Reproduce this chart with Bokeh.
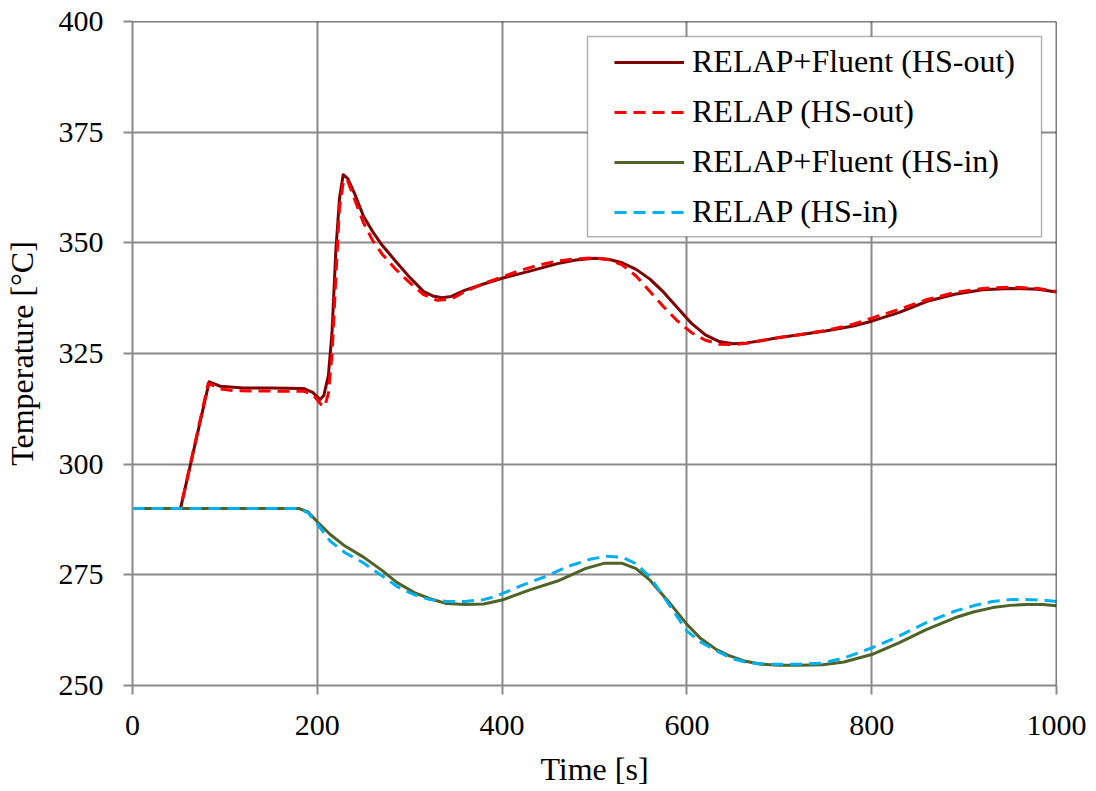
from bokeh.plotting import figure
from bokeh.models import Legend, LegendItem, FixedTicker, Span, BoxAnnotation
from bokeh.embed import file_html
from bokeh.resources import INLINE

# ---------------- data ----------------
t_fl_out = [0, 52, 83, 95, 120, 150, 185, 195, 203, 207, 212, 216, 220, 224, 228, 233,
            240, 250, 260, 270, 285, 300, 315, 325, 335, 345, 360, 380, 400, 430, 460,
            480, 500, 515, 530, 545, 560, 575, 590, 605, 620, 635, 650, 665, 680, 700,
            720, 750, 780, 800, 830, 860, 890, 920, 950, 980, 1000]
y_fl_out = [290, 290, 318.6, 317.6, 317.2, 317.2, 317.1, 316.2, 314.6, 315.5, 320, 330,
            348, 360, 365.4, 364.5, 361.3, 356, 352.5, 349.5, 345.8, 342.2, 339.0, 338.0,
            337.6, 337.9, 339.3, 340.7, 342.0, 343.6, 345.3, 346.1, 346.5, 346.3, 345.5,
            344, 341.8, 338.8, 335.3, 331.8, 329.2, 327.7, 327.2, 327.4, 327.9, 328.6,
            329.2, 330.1, 331.2, 332.3, 334.3, 336.8, 338.4, 339.4, 339.7, 339.5, 338.9]

t_re_out = [0, 52, 82, 95, 110, 150, 185, 195, 204, 208, 212, 216, 220, 224, 228, 232,
            240, 250, 260, 270, 285, 300, 315, 330, 345, 360, 380, 400, 420, 440, 460,
            480, 500, 515, 530, 545, 560, 575, 590, 605, 620, 635, 650, 665, 680, 700,
            720, 750, 780, 800, 830, 860, 890, 920, 950, 980, 1000]
y_re_out = [290, 290, 318.3, 317, 316.6, 316.5, 316.5, 315.8, 313.5, 313, 316, 325,
            342, 358, 363.5, 364.5, 360, 354.5, 350.5, 347.5, 344, 341, 338.3, 337,
            337.3, 339, 340.8, 342.3, 343.8, 345, 345.9, 346.4, 346.6, 346.2, 345,
            342.5, 339, 335.5, 332.3, 329.7, 328, 327.1, 327, 327.3, 327.9, 328.6,
            329.2, 330.2, 331.6, 333, 335, 337.2, 338.8, 339.7, 340, 339.7, 339]

t_fl_in = [0, 180, 190, 200, 214, 230, 250, 270, 286, 305, 322, 340, 360, 380, 400, 430,
           460, 490, 510, 530, 545, 560, 580, 600, 615, 632, 645, 661, 680, 700, 720,
           747, 770, 800, 830, 859, 890, 910, 931, 950, 967, 985, 1000]
y_fl_in = [290, 290, 289.2, 287, 284.1, 281.5, 279, 276, 273.3, 271, 269.6, 268.5, 268.3,
           268.4, 269.3, 271.6, 273.6, 276.4, 277.6, 277.6, 276.4, 273.8, 269, 263.8,
           260.6, 258.1, 256.8, 255.6, 254.8, 254.6, 254.6, 254.7, 255.3, 257, 259.7,
           262.6, 265.3, 266.6, 267.6, 268.1, 268.3, 268.3, 268]

t_re_in = [0, 180, 190, 200, 214, 230, 250, 270, 286, 305, 322, 340, 360, 380, 394, 420,
           448, 470, 495, 513, 530, 545, 560, 580, 600, 615, 632, 650, 665, 690, 720,
           745, 770, 800, 830, 859, 890, 910, 931, 950, 967, 985, 1000]
y_re_in = [290, 290, 289, 286.5, 282.6, 280, 277.7, 274.8, 272.4, 270.5, 269.4, 269, 269,
           269.4, 270.2, 272.5, 274.7, 276.8, 278.5, 279.2, 279, 277.5, 274.5, 268.5,
           262.3, 259.8, 257.8, 256, 255.2, 254.8, 254.8, 255, 256.2, 258.5, 261.2,
           264.2, 266.8, 268, 269, 269.4, 269.4, 269.3, 269]

labels = ["RELAP+Fluent (HS-out)", "RELAP (HS-out)", "RELAP+Fluent (HS-in)", "RELAP (HS-in)"]
colors = ["#800000", "#FF0000", "#4F6228", "#00B0F0"]

x_ticks = [0, 200, 400, 600, 800, 1000]
y_ticks = [250, 275, 300, 325, 350, 375, 400]

FONT = "Liberation Serif"
GRID = "#8A8A8A"

p = figure(frame_width=924, frame_height=664,
           x_range=(0, 1000), y_range=(250, 400),
           output_backend="svg", toolbar_location=None,
           min_border_left=125, min_border_top=21, min_border_right=36,
           min_border_bottom=90, background_fill_color="white",
           border_fill_color="white")
p.outline_line_color = None

# grid
p.xgrid.ticker = FixedTicker(ticks=x_ticks)
p.ygrid.ticker = FixedTicker(ticks=y_ticks)
for g in (p.xgrid[0], p.ygrid[0]):
    g.grid_line_color = GRID
    g.grid_line_width = 2

# axes
p.xaxis.ticker = FixedTicker(ticks=x_ticks)
p.yaxis.ticker = FixedTicker(ticks=y_ticks)
for ax in (p.xaxis[0], p.yaxis[0]):
    ax.axis_line_color = GRID
    ax.axis_line_width = 2
    ax.major_tick_line_color = GRID
    ax.major_tick_line_width = 2
    ax.major_tick_out = 9
    ax.major_tick_in = 0
    ax.minor_tick_line_color = None
    ax.major_label_text_font = FONT
    ax.major_label_text_font_size = "30px"
    ax.major_label_text_color = "black"
    ax.axis_label_text_font = FONT
    ax.axis_label_text_font_size = "32px"
    ax.axis_label_text_font_style = "normal"
    ax.axis_label_text_color = "black"
p.xaxis.axis_label = "Time [s]"
p.yaxis.axis_label = "Temperature [°C]"
p.xaxis.major_label_standoff = 21
p.yaxis.major_label_standoff = 20
p.xaxis.axis_label_standoff = 13
p.yaxis.axis_label_standoff = 16

# top / right border of plot area
p.add_layout(Span(location=400, dimension="width", line_color="black", line_width=1.5))
p.add_layout(Span(location=1000, dimension="height", line_color="black", line_width=1.5))

# series
r1 = p.line(t_fl_out, y_fl_out, line_color=colors[0], line_width=3, line_join="round")
r2 = p.line(t_re_out, y_re_out, line_color=colors[1], line_width=3, line_dash="12 7",
            line_join="round")
r3 = p.line(t_fl_in, y_fl_in, line_color=colors[2], line_width=3, line_join="round")
r4 = p.line(t_re_in, y_re_in, line_color=colors[3], line_width=3, line_dash="12 7",
            line_join="round")

# legend frame
box = BoxAnnotation(left=492.4, right=983.8, bottom=351.4, top=396.6,
                    fill_color="white", fill_alpha=1.0,
                    line_color="black", line_width=1.5)
p.add_layout(box)

legend = Legend(items=[LegendItem(label=lab, renderers=[r])
                       for lab, r in zip(labels, [r1, r2, r3, r4])],
                location=(482, 455), padding=0, margin=0,
                border_line_alpha=0, background_fill_alpha=0,
                glyph_width=70, glyph_height=36, label_height=36,
                label_standoff=8, spacing=13,
                label_text_font=FONT, label_text_font_size="32px",
                label_text_color="black")
p.add_layout(legend, "center")

open("out.html", "w").write(file_html(p, INLINE))
